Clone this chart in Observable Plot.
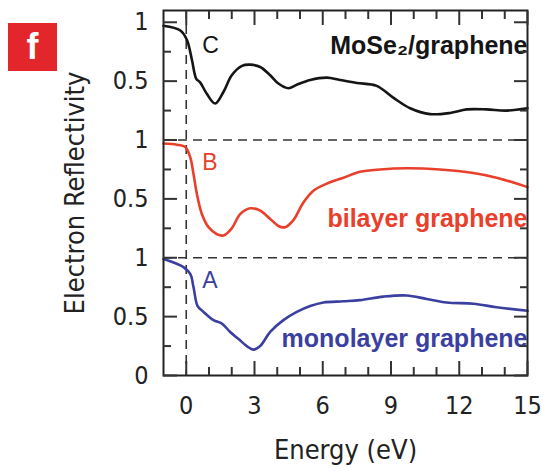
<!DOCTYPE html>
<html><head><meta charset="utf-8">
<script src="https://cdn.jsdelivr.net/npm/d3@7"></script>
<script src="https://cdn.jsdelivr.net/npm/@observablehq/plot@0.6"></script>
<style>
body{margin:0;background:#fff;}
#wrap{position:relative;width:547px;height:471px;}
#badge{position:absolute;left:8px;top:23px;width:49px;height:48px;background:#e3262b;color:#fff;font:bold 36px "Liberation Sans",Arial,sans-serif;text-align:center;line-height:48px;}
</style></head><body>
<div id="wrap"><div id="badge">f</div></div>
<script>
// Curve C: MoSe2/graphene (panel offset 2)
const energyC = [-1, -0.26, 0.03, 0.25, 0.44, 0.61, 0.91, 1.27, 1.64, 2.0, 2.45, 2.81, 3.25, 3.69, 4.05, 4.49, 4.86, 5.45, 6.18, 6.76, 7.5, 8.37, 9.1, 9.84, 10.72, 11.6, 12.33, 13.2, 14.08, 15];
const reflC   = [0.97, 0.93, 0.85, 0.68, 0.52, 0.49, 0.39, 0.31, 0.41, 0.55, 0.63, 0.64, 0.62, 0.55, 0.48, 0.44, 0.47, 0.51, 0.53, 0.51, 0.485, 0.46, 0.36, 0.27, 0.22, 0.23, 0.26, 0.26, 0.25, 0.27];
// Curve B: bilayer graphene (panel offset 1)
const energyB = [-1, -0.41, -0.04, 0.18, 0.32, 0.47, 0.69, 0.98, 1.35, 1.64, 2.0, 2.37, 2.81, 3.25, 3.69, 4.05, 4.35, 4.71, 5.15, 5.59, 6.18, 6.91, 7.64, 8.52, 9.69, 11.15, 12.62, 13.64, 15];
const reflB   = [0.97, 0.96, 0.94, 0.85, 0.71, 0.54, 0.37, 0.26, 0.20, 0.19, 0.25, 0.37, 0.42, 0.40, 0.33, 0.27, 0.26, 0.32, 0.47, 0.57, 0.63, 0.68, 0.73, 0.75, 0.76, 0.75, 0.72, 0.68, 0.60];
// Curve A: monolayer graphene (panel offset 0)
const energyA = [-1, -0.56, -0.12, 0.18, 0.32, 0.5, 0.76, 1.2, 1.57, 1.93, 2.3, 2.66, 2.96, 3.25, 3.69, 4.27, 4.86, 5.45, 6.03, 6.91, 7.64, 8.66, 9.69, 10.57, 11.45, 12.62, 13.64, 15];
const reflA   = [0.99, 0.96, 0.92, 0.86, 0.75, 0.59, 0.54, 0.47, 0.44, 0.37, 0.31, 0.25, 0.22, 0.25, 0.37, 0.47, 0.54, 0.59, 0.62, 0.63, 0.64, 0.67, 0.68, 0.65, 0.62, 0.61, 0.58, 0.55];

const seriesNames = ["MoSe₂/graphene", "bilayer graphene", "monolayer graphene"];
const seriesLetters = ["C", "B", "A"];
const seriesOffsets = [2, 1, 0];
const seriesColors = ["#151515", "#e8402b", "#3b3fa0"];

const xMajor = [0, 3, 6, 9, 12, 15];
const xMinor = [1, 2, 4, 5, 7, 8, 10, 11, 13, 14];
const yMajor = [0, 0.5, 1, 1.5, 2, 2.5, 3];
const yMinor = [0.25, 0.75, 1.25, 1.75, 2.25, 2.75];
const yTickLabels = ["0", "0.5", "1", "0.5", "1", "0.5", "1"];
const dashY = [1, 2];
const dashX = [0];

const nameY = [2.80, 1.325, 0.306];
const letterY = [2.80, 1.805, 0.81];

const energies = [energyC, energyB, energyA];
const refls = [reflC, reflB, reflA];

const NARROW = '"DejaVu Sans Condensed", "DejaVu Sans", sans-serif';
const BOLD = '"Liberation Sans", Arial, sans-serif';

const W = 547, H = 471, ML = 163, MR = 20, MT = 10, MB = 96;
const XDOM = [-1, 15], YDOM = [0, 3.1];
const MAJ = 14, MIN = 8;

const lineMarks = energies.map((en, k) => Plot.line(
  en.map((e, i) => ({energy: e, refl: refls[k][i] + seriesOffsets[k]})),
  {x: "energy", y: "refl", stroke: seriesColors[k], strokeWidth: 2.6, curve: "catmull-rom"}
));

const nameData = seriesNames.map((n, i) => ({name: n, y: nameY[i], color: seriesColors[i]}));
const letterData = seriesLetters.map((n, i) => ({name: n, y: letterY[i], color: seriesColors[i]}));

const tk = {tickFormat: () => "", label: null, stroke: "#333", strokeWidth: 2};
const tickMarks = [
  Plot.axisX({anchor: "bottom", ticks: xMajor, tickSize: -MAJ, ...tk}),
  Plot.axisX({anchor: "bottom", ticks: xMinor, tickSize: -MIN, ...tk}),
  Plot.axisX({anchor: "top", ticks: xMajor, tickSize: -MAJ, ...tk}),
  Plot.axisX({anchor: "top", ticks: xMinor, tickSize: -MIN, ...tk}),
  Plot.axisY({anchor: "left", ticks: yMajor, tickSize: -MAJ, ...tk}),
  Plot.axisY({anchor: "left", ticks: yMinor, tickSize: -MIN, ...tk}),
  Plot.axisY({anchor: "right", ticks: yMajor, tickSize: -MAJ, ...tk}),
  Plot.axisY({anchor: "right", ticks: yMinor, tickSize: -MIN, ...tk})
];

const plot = Plot.plot({
  width: W, height: H,
  marginLeft: ML, marginRight: MR, marginTop: MT, marginBottom: MB,
  style: {fontFamily: NARROW},
  x: {domain: XDOM},
  y: {domain: YDOM},
  marks: [
    Plot.ruleY(dashY, {stroke: "#333", strokeWidth: 1.6, strokeDasharray: "9,6"}),
    Plot.ruleX(dashX, {stroke: "#333", strokeWidth: 1.6, strokeDasharray: "9,6"}),
    ...lineMarks,
    Plot.text(nameData, {x: () => 15, y: "y", text: "name", fill: "color", textAnchor: "end", fontSize: 25, fontWeight: "bold", fontFamily: BOLD}),
    Plot.text(letterData, {x: () => 0.7, y: "y", text: "name", fill: "color", textAnchor: "start", fontSize: 23, fontFamily: BOLD}),
    Plot.axisX({anchor: "bottom", ticks: xMajor, tickSize: 0, tickPadding: 21, fontSize: 25, label: null, tickFormat: d => String(d), fill: "#222"}),
    Plot.axisY({anchor: "left", ticks: yMajor, tickSize: 0, tickPadding: 15, fontSize: 25, label: null, tickFormat: d => yTickLabels[yMajor.indexOf(d)], fill: "#222"}),
    Plot.text(["Electron Reflectivity"], {frameAnchor: "left", textAnchor: "middle", lineAnchor: "middle", rotate: -90, dx: -88, fontSize: 27, fill: "#222"}),
    Plot.text(["Energy (eV)"], {frameAnchor: "bottom", lineAnchor: "middle", dy: 75, fontSize: 27, fill: "#222"}),
    Plot.frame({stroke: "#222", strokeWidth: 2}),
    ...tickMarks
  ]
});
document.getElementById("wrap").appendChild(plot);
</script>
</body></html>
